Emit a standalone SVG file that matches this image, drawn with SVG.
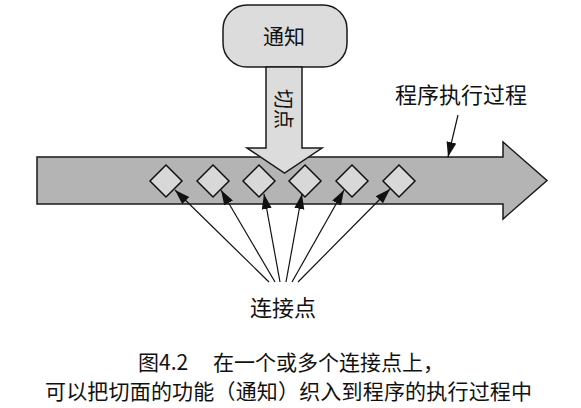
<svg xmlns="http://www.w3.org/2000/svg" width="581" height="408" viewBox="0 0 581 408">
<style>
text{font-family:"Noto Sans CJK SC","Liberation Sans",sans-serif;fill:#111}
.outline{stroke:#1a1a1a;stroke-width:1.5;stroke-linejoin:miter}
.light{fill:#dcdcdc}
.dia{fill:#d8d8d8;stroke:#111;stroke-width:1.5}
.conn{stroke:#111;stroke-width:1.2;fill:none}
</style>
<defs>
<marker id="ah" markerUnits="userSpaceOnUse" markerWidth="16" markerHeight="12" refX="15" refY="5" orient="auto">
<path d="M0,0 L15,5 L0,10 z" fill="#111"/>
</marker>
</defs>
<rect width="581" height="408" fill="#fff"/>
<g id="process">
<polygon class="outline" fill="#b4b4b4" points="37,157 503,157 503,142 547,180.5 503,219 503,204 37,204"/>
<text x="461" y="103" font-size="22" text-anchor="middle">程序执行过程</text>
</g>
<g id="advice">
<rect class="outline light" x="223" y="5" width="124" height="62" rx="24" ry="24"/>
<text x="284" y="44" font-size="21" text-anchor="middle">通知</text>
</g>
<g id="pointcut">
<polygon class="outline light" points="266,67 302,67 302,148 322,148 284.5,173 247,148 266,148"/>
<text x="284" y="109" font-size="20" text-anchor="middle" dominant-baseline="central" transform="rotate(90 284 109)">切点</text>
</g>
<g id="joinpoints">
<polygon class="dia" points="166,165 182,181 166,197 150,181"/>
<polygon class="dia" points="213,165 229,181 213,197 197,181"/>
<polygon class="dia" points="259,165 275,181 259,197 243,181"/>
<polygon class="dia" points="305,165 321,181 305,197 289,181"/>
<polygon class="dia" points="352,165 368,181 352,197 336,181"/>
<polygon class="dia" points="399,165 415,181 399,197 383,181"/>
</g>
<g id="joinpoint-label">
<text x="283" y="316" font-size="22" text-anchor="middle">连接点</text>
</g>
<g id="connectors">
<line class="conn" x1="458" y1="115" x2="448" y2="157" marker-end="url(#ah)"/>
<line class="conn" x1="269" y1="282" x2="175" y2="190" marker-end="url(#ah)"/>
<line class="conn" x1="275" y1="282" x2="221" y2="190" marker-end="url(#ah)"/>
<line class="conn" x1="280" y1="282" x2="264" y2="194" marker-end="url(#ah)"/>
<line class="conn" x1="286" y1="282" x2="302" y2="194" marker-end="url(#ah)"/>
<line class="conn" x1="292" y1="282" x2="344" y2="190" marker-end="url(#ah)"/>
<line class="conn" x1="298" y1="282" x2="390" y2="189" marker-end="url(#ah)"/>
</g>
<g id="caption">
<text x="138" y="370" font-size="21">图4.2</text>
<text x="213" y="370" font-size="21">在一个或多个连接点上，</text>
<text x="45" y="399" font-size="21" textLength="487">可以把切面的功能（通知）织入到程序的执行过程中</text>
</g>
</svg>
